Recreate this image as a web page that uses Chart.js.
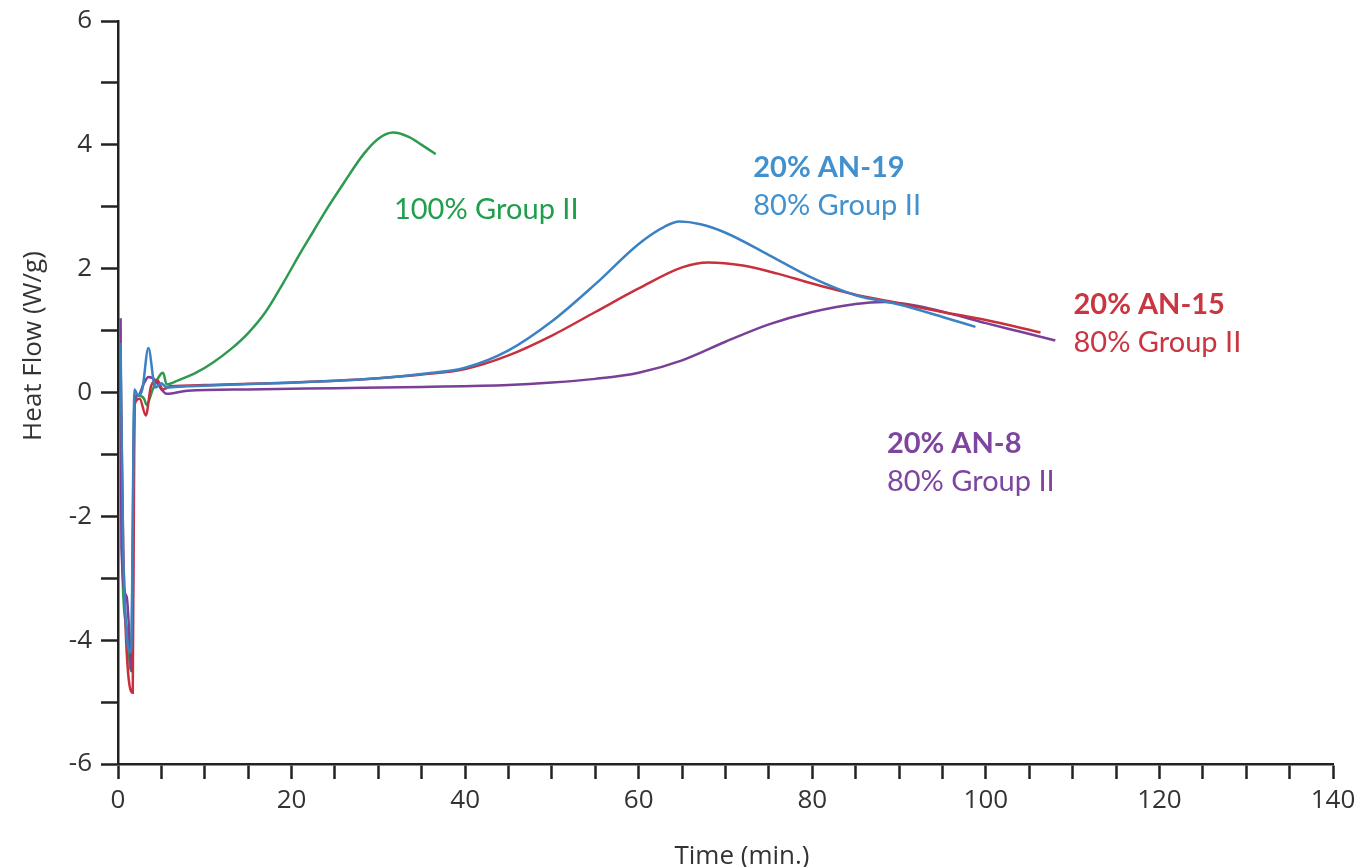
<!DOCTYPE html>
<html>
<head>
<meta charset="utf-8">
<script src="https://cdn.jsdelivr.net/npm/chart.js@4/dist/chart.umd.min.js"></script>
<style>
  html, body { margin: 0; padding: 0; background: #fff; }
  #wrap { width: 1355px; height: 867px; position: relative; }
</style>
</head>
<body>
<div id="wrap"><canvas id="c"></canvas></div>
<script>
// Heat flow curves (time in minutes, heat flow in W/g)
const timeGroupII = [0.3, 0.5, 1.0, 1.5, 1.9, 2.4, 3.0, 3.3, 4.0, 5.2, 5.6, 7, 9, 11, 13, 15, 17, 19, 21, 22.5, 24, 26, 28.3, 30, 31.7, 33.5, 35, 36.6];
const flowGroupII = [0.2, -2.8, -3.8, -4.5, -0.15, -0.05, -0.1, -0.2, 0.05, 0.32, 0.13, 0.2, 0.32, 0.49, 0.7, 0.96, 1.3, 1.76, 2.25, 2.6, 2.95, 3.38, 3.85, 4.1, 4.2, 4.13, 4.0, 3.85];

const timeAN19 = [0.3, 0.6, 1.5, 1.9, 2.3, 2.8, 3.5, 4.3, 5.0, 5.6, 8, 12, 18, 24, 30, 35, 40, 45, 50, 55, 60, 63, 64.7, 67, 70, 75, 80, 85, 90, 95, 98.8];
const flowAN19 = [0.8, -2.6, -4.2, 0.05, -0.05, 0.05, 0.72, 0.08, 0.15, 0.08, 0.1, 0.12, 0.15, 0.18, 0.23, 0.3, 0.4, 0.68, 1.15, 1.75, 2.4, 2.68, 2.76, 2.72, 2.58, 2.22, 1.85, 1.57, 1.42, 1.22, 1.06];

const timeAN15 = [0.3, 0.6, 1.7, 1.9, 2.5, 3.2, 3.8, 4.5, 5.2, 6, 10, 15, 20, 25, 30, 35, 40, 45, 50, 55, 60, 65, 68, 72, 76, 80, 85, 90, 95, 100, 106.3];
const flowAN15 = [0.5, -2.5, -4.85, -0.2, -0.1, -0.37, 0.1, 0.2, 0.05, 0.1, 0.12, 0.14, 0.16, 0.19, 0.23, 0.29, 0.38, 0.6, 0.92, 1.3, 1.68, 2.02, 2.1, 2.05, 1.92, 1.76, 1.58, 1.44, 1.3, 1.17, 0.97];

const timeAN8 = [0.3, 0.4, 1.0, 1.6, 1.9, 2.3, 3.0, 3.5, 4.3, 5.0, 5.6, 8, 15, 25, 35, 45, 50, 55, 60, 65, 70, 75, 80, 85, 88.3, 92, 96, 100, 104, 108];
const flowAN8 = [1.2, -2.5, -3.3, -4.5, -0.1, -0.05, 0.15, 0.25, 0.2, 0.05, -0.02, 0.03, 0.05, 0.07, 0.09, 0.12, 0.16, 0.22, 0.32, 0.52, 0.82, 1.1, 1.3, 1.43, 1.46, 1.4, 1.27, 1.12, 0.98, 0.84];

// Axis settings
const xMin = 0, xMax = 140, xStep = 5, xLabelEvery = 20;
const yMin = -6, yMax = 6, yStep = 1, yLabelEvery = 2;
const xTitle = 'Time (min.)';
const yTitle = 'Heat Flow (W/g)';

// Curve labels, anchored in data units (left edge, baseline of first line)
const curveLabels = [
  { bold: null, text: '100% Group II', x: 31.8, y: 2.8, color: '#1f9e4b' },
  { bold: '20% AN-19', text: '80% Group II', x: 73.2, y: 3.48, color: '#4191cf' },
  { bold: '20% AN-15', text: '80% Group II', x: 110.1, y: 1.27, color: '#c93540' },
  { bold: '20% AN-8', text: '80% Group II', x: 88.6, y: -0.98, color: '#7d45a0' }
];

function pts(t, f) { return t.map((v, i) => ({ x: v, y: f[i] })); }

const series = [
  { label: '20% AN-19', t: timeAN19, f: flowAN19, color: '#3b82c4' },
  { label: '20% AN-15', t: timeAN15, f: flowAN15, color: '#c9303e' },
  { label: '20% AN-8', t: timeAN8, f: flowAN8, color: '#7a3f96' },
  { label: '100% Group II', t: timeGroupII, f: flowGroupII, color: '#2e9a50' }
];

const axisFont = '"Open Sans", sans-serif';
const labelFont = 'Lato, "Open Sans", sans-serif';

const textPlugin = {
  id: 'chartText',
  afterDraw(chart) {
    const ctx = chart.ctx;
    const xs = chart.scales.x, ys = chart.scales.y;
    ctx.save();
    // axis titles
    ctx.fillStyle = '#333';
    ctx.font = '26px ' + axisFont;
    ctx.textAlign = 'center';
    ctx.textBaseline = 'alphabetic';
    ctx.fillText(xTitle, 742, 864);
    ctx.save();
    ctx.translate(41, 346);
    ctx.rotate(-Math.PI / 2);
    ctx.fillText(yTitle, 0, 0);
    ctx.restore();
    // curve labels
    ctx.textAlign = 'left';
    curveLabels.forEach(l => {
      const px = xs.getPixelForValue(l.x);
      let py = ys.getPixelForValue(l.y);
      ctx.fillStyle = l.color;
      if (l.bold) {
        ctx.font = 'bold 29px ' + labelFont;
        ctx.fillText(l.bold, px, py);
        py += 38;
      }
      ctx.font = '29px ' + labelFont;
      ctx.fillText(l.text, px, py);
    });
    ctx.restore();
  }
};

new Chart(document.getElementById('c'), {
  type: 'line',
  data: {
    datasets: series.map(s => ({
      label: s.label,
      data: pts(s.t, s.f),
      borderColor: s.color,
      borderWidth: 2.5,
      pointRadius: 0,
      fill: false,
      cubicInterpolationMode: 'monotone'
    }))
  },
  options: {
    responsive: true,
    maintainAspectRatio: false,
    animation: false,
    layout: { padding: { left: 0, right: 22, top: 21, bottom: 0 } },
    plugins: { legend: { display: false }, tooltip: { enabled: false } },
    scales: {
      x: {
        type: 'linear',
        min: xMin, max: xMax,
        afterFit(s) { s.height = 103; s.paddingLeft = 0; s.paddingRight = 0; },
        border: { color: '#222', width: 2.5 },
        grid: { drawOnChartArea: false, drawTicks: true, tickLength: 15, tickColor: '#222', tickWidth: 2.5 },
        ticks: {
          stepSize: xStep, autoSkip: false, maxRotation: 0, padding: 6,
          color: '#333', font: { family: axisFont, size: 26 },
          callback: v => (v % xLabelEvery === 0 ? v : '')
        }
      },
      y: {
        type: 'linear',
        min: yMin, max: yMax,
        afterFit(s) { s.width = 118; s.paddingTop = 0; s.paddingBottom = 0; },
        border: { color: '#222', width: 2.5 },
        grid: { drawOnChartArea: false, drawTicks: true, tickLength: 17, tickColor: '#222', tickWidth: 2.5 },
        ticks: {
          stepSize: yStep, autoSkip: false, padding: 9,
          color: '#333', font: { family: axisFont, size: 26 },
          callback: v => (v % yLabelEvery === 0 ? v : '')
        }
      }
    }
  },
  plugins: [textPlugin]
});
</script>
</body>
</html>
